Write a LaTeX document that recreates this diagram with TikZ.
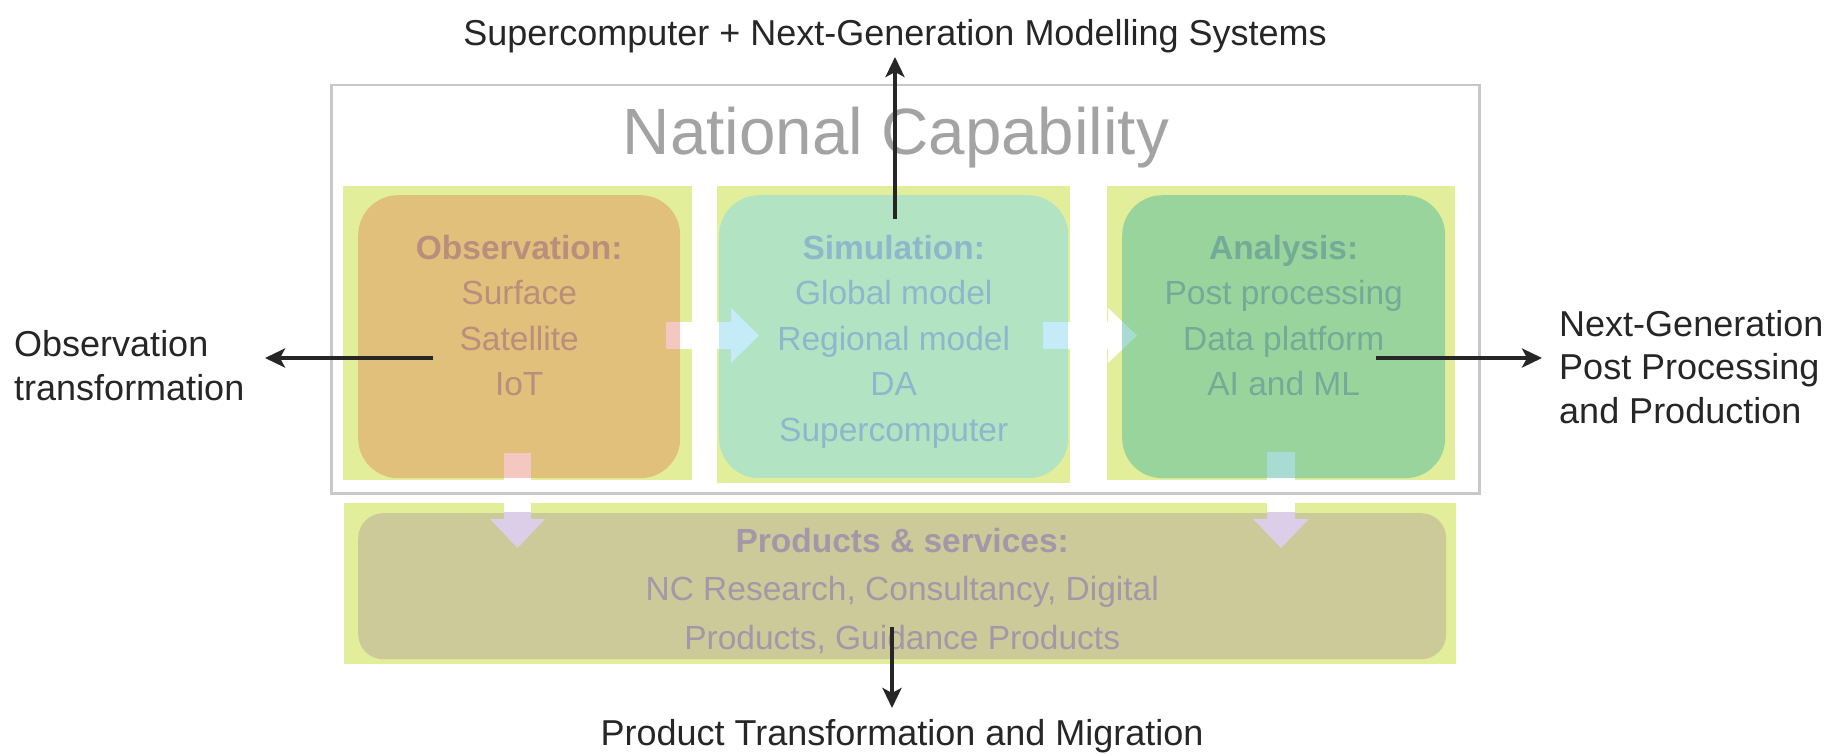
\documentclass[tikz,border=0pt]{standalone}
\usepackage{fontspec}
\setmainfont{Liberation Sans}
\usetikzlibrary{positioning, arrows.meta}
\definecolor{inkblack}{HTML}{262626}
\definecolor{framegray}{HTML}{C8C8C8}
\definecolor{titlegray}{HTML}{A3A3A3}
\definecolor{bglime}{HTML}{E2EE9A}
\definecolor{obsfill}{HTML}{E0C07B}
\definecolor{simfill}{HTML}{B2E4C3}
\definecolor{anafill}{HTML}{9AD49D}
\definecolor{prodfill}{HTML}{CDCA9A}
\definecolor{obstext}{HTML}{BA8E7C}
\definecolor{simtext}{HTML}{90B6CC}
\definecolor{anatext}{HTML}{72AC98}
\definecolor{prodtext}{HTML}{A596A8}
\definecolor{arrpink}{HTML}{F4C8C0}
\definecolor{arrblue}{HTML}{C5EAF8}
\definecolor{arrteal}{HTML}{A8DCD2}
\definecolor{arrlilac}{HTML}{DCCDE8}
\tikzset{
x=1pt, y=-1pt, % pixel-like units, y grows downwards
backing/.style={fill=bglime, inner sep=0pt, anchor=north west}, % pale strip behind each card
card/.style={rounded corners=40pt, inner sep=0pt, anchor=north west}, % coloured rounded box
cardtext/.style={align=center, anchor=base, inner sep=0pt, font=\fontsize{33.5}{45.5}\selectfont}, % text lines in a card (base = last line)
prodtextstyle/.style={cardtext, font=\fontsize{33.5}{48.5}\selectfont}, % wider spacing in the bottom card
conn/.style={-{Stealth[length=20pt, width=19pt, inset=5pt]}, line width=4.5pt, draw=inkblack}, % black arrows
lbl/.style={text=inkblack, inner sep=4pt, font=\fontsize{36}{43.5}\selectfont}, % outside labels
}
\begin{document}
\begin{tikzpicture}
\useasboundingbox (0,0) rectangle (1835,754);
% backings
\node[backing, minimum width=349pt, minimum height=294pt] (obsback) at (343,186) {};
\node[backing, minimum width=353pt, minimum height=297pt] (simback) at (717,186) {};
\node[backing, minimum width=348pt, minimum height=294pt] (anaback) at (1107,186) {};
\node[backing, minimum width=1112pt, minimum height=161pt] (prodback) at (344,503) {};
% cards
\node[card, fill=obsfill, minimum width=322pt, minimum height=283pt] (obs) at (358,195) {};
\node[card, fill=simfill, minimum width=349pt, minimum height=283pt] (sim) at (719,195) {};
\node[card, fill=anafill, minimum width=323pt, minimum height=283pt] (ana) at (1122,195) {};
\node[card, fill=prodfill, rounded corners=25pt, minimum width=1088pt, minimum height=146pt] (prod) at (358,513) {};
% faded block arrows
\fill[arrpink] (666,322) rectangle (680,349);
\fill[white] (680,322) rectangle (719,349);
\fill[arrblue] (719,322) -- (731,322) -- (731,308) -- (759,335.5) -- (731,363) -- (731,349) -- (719,349) -- cycle;
\fill[arrblue] (1043,322) rectangle (1068,349);
\fill[white] (1068,322) -- (1108,322) -- (1108,308) -- (1122,321.3) -- (1122,349.7) -- (1108,363) -- (1108,349) -- (1068,349) -- cycle;
\fill[arrteal] (1122,321.3) -- (1137,335.5) -- (1122,349.7) -- cycle;
\fill[arrpink] (504,453) rectangle (531,478);
\fill[white] (504,478) rectangle (531,512);
\fill[arrlilac] (504,512) -- (504,519) -- (490,519) -- (517.5,548) -- (545,519) -- (531,519) -- (531,512) -- cycle;
\fill[arrteal] (1267,452) rectangle (1295,478);
\fill[white] (1267,478) rectangle (1295,512);
\fill[arrlilac] (1267,512) -- (1267,519) -- (1253,519) -- (1281,548) -- (1309,519) -- (1295,519) -- (1295,512) -- cycle;
% frame and title
\node[draw=framegray, line width=2.5pt, inner sep=0pt, anchor=north west, minimum width=1148pt, minimum height=408pt] (nc) at (330,84) {};
\node[anchor=base, inner sep=0pt, text=titlegray, font=\fontsize{65.5}{70}\selectfont] (nctitle) at (896,155) {National Capability};
% card texts
\node[cardtext, text=obstext] (obslines) at ([yshift=-200.5pt]obs.north) {\textbf{Observation:}\\Surface\\Satellite\\IoT};
\node[cardtext, text=simtext] (simlines) at ([yshift=-246pt]sim.north) {\textbf{Simulation:}\\Global model\\Regional model\\DA\\Supercomputer};
\node[cardtext, text=anatext] (analines) at ([yshift=-200.5pt]ana.north) {\textbf{Analysis:}\\Post processing\\Data platform\\AI and ML};
\node[prodtextstyle, text=prodtext] (prodlines) at ([yshift=-136pt]prod.north) {\textbf{Products \& services:}\\NC Research, Consultancy, Digital\\Products, Guidance Products};
% black arrows
\coordinate (obsout) at (433,358);
\coordinate (obsend) at (265,358);
\coordinate (simout) at (895,219);
\coordinate (simend) at (895,57);
\coordinate (anaout) at (1376,358);
\coordinate (anaend) at (1542,358);
\coordinate (prodout) at (892,627);
\coordinate (prodend) at (892,708);
\draw[conn] (obsout) -- (obsend);
\draw[conn] (simout) -- (simend);
\draw[conn] (anaout) -- (anaend);
\draw[conn] (prodout) -- (prodend);
% labels
\node[lbl, above=0pt of simend] (simlbl) {Supercomputer + Next-Generation Modelling Systems};
\node[lbl, below=7pt of prodend, xshift=10pt] (prodlbl) {Product Transformation and Migration};
\node[lbl, align=left, anchor=base west, inner sep=0pt] (obslbl) at (14,400) {Observation\\transformation};
\node[lbl, align=left, anchor=base west, inner sep=0pt] (analbl) at (1559,423) {Next-Generation\\Post Processing\\and Production};
\end{tikzpicture}
\end{document}
